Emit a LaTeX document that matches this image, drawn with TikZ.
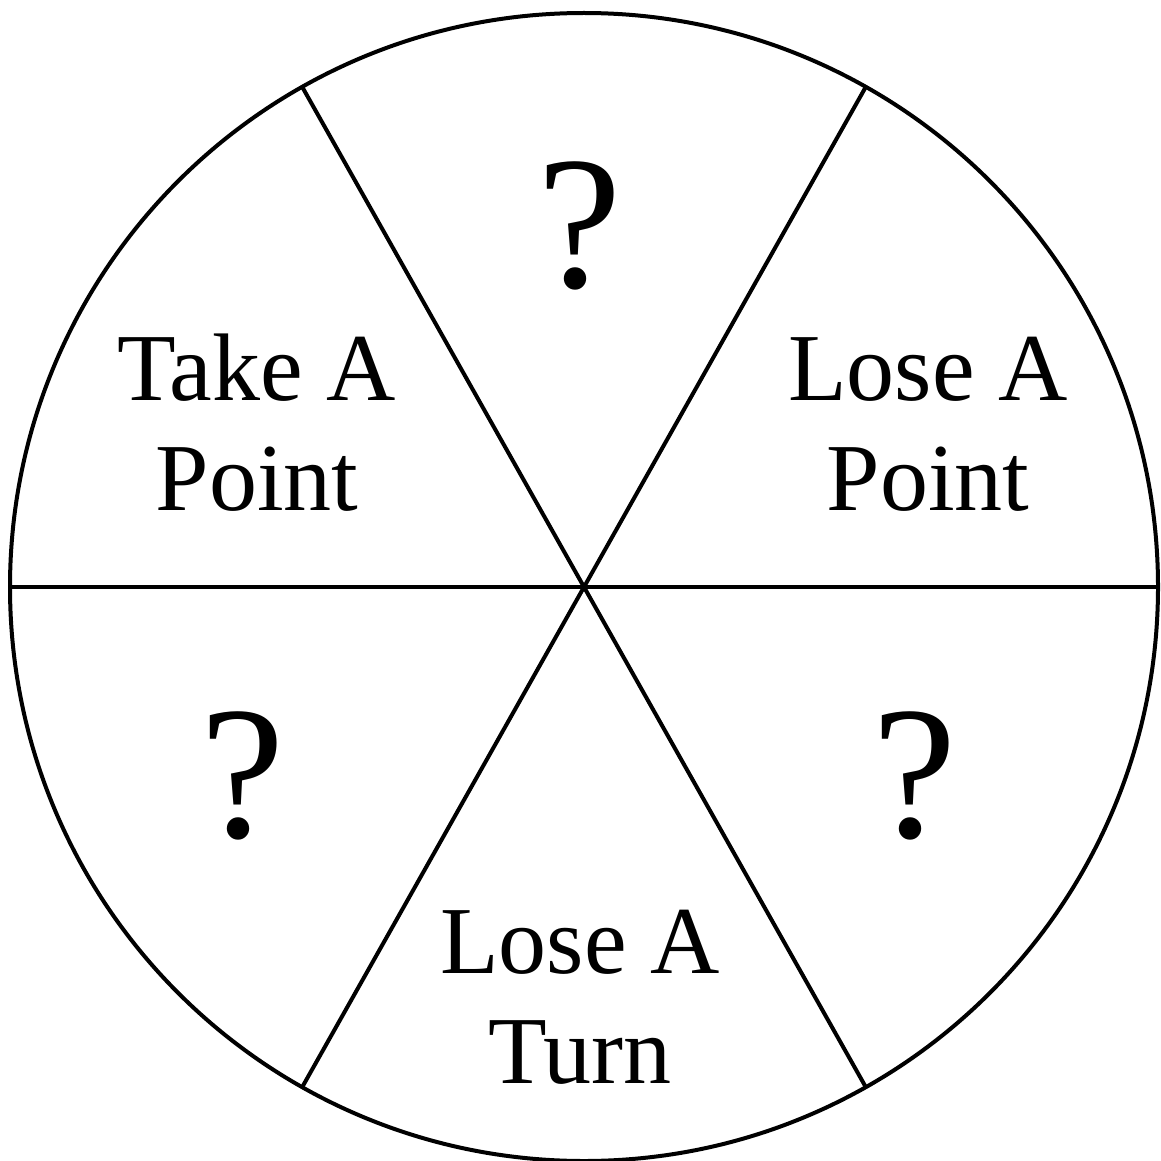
\documentclass[tikz,border=0pt]{standalone}
\usepackage{fontspec}
\setmainfont{Liberation Serif}
\usetikzlibrary{calc}
\begin{document}
\begin{tikzpicture}[x=1pt,y=-1pt,
  wline/.style={line width=4pt,black},
  lbl/.style={anchor=base,inner sep=0pt,font=\fontsize{96}{110}\selectfont},
  qm/.style={anchor=base,inner sep=0pt,font=\fontsize{190}{200}\selectfont}]
\useasboundingbox (0,0) rectangle (1161,1161);
\coordinate (c) at (584,587);
\draw[wline] (c) circle[radius=574];
\coordinate (r) at ($(c)+(0:574)$);
\coordinate (l) at ($(c)+(180:574)$);
\coordinate (br) at ($(c)+(60.6:574)$);
\coordinate (tl) at ($(c)+(240.6:574)$);
\coordinate (bl) at ($(c)+(119.4:574)$);
\coordinate (tr) at ($(c)+(299.4:574)$);
\draw[wline] (r) -- (l);
\draw[wline] (br) -- (tl);
\draw[wline] (bl) -- (tr);
\node[qm] (q1) at (580,287) {?};
\node[qm] (q2) at (243,837) {?};
\node[qm] (q3) at (915,837) {?};
\node[lbl] (t1) at (257,400) {Take A};
\node[lbl] (t2) at (257,510) {Point};
\node[lbl] (l1) at (928,400) {Lose A};
\node[lbl] (l2) at (928,510) {Point};
\node[lbl] (u1) at (580,973) {Lose A};
\node[lbl] (u2) at (580,1083) {Turn};
\end{tikzpicture}
\end{document}
